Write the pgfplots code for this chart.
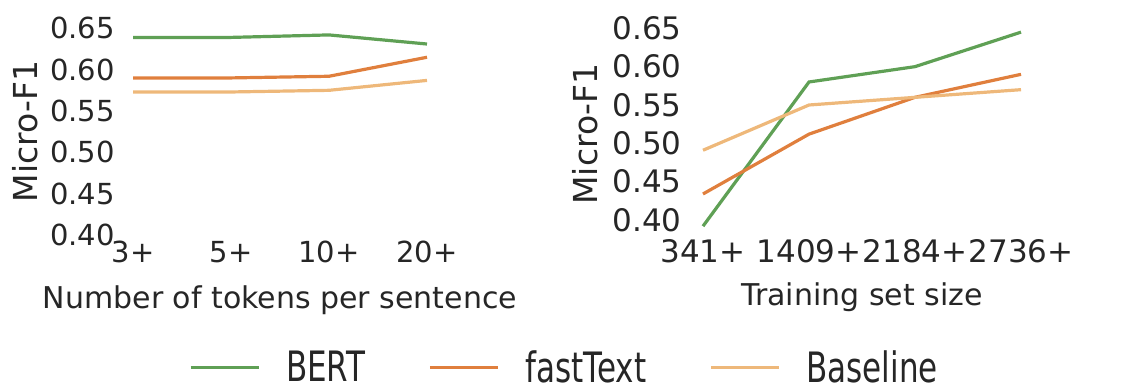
\documentclass[border=0pt]{standalone}
\usepackage{pgfplots}
\pgfplotsset{compat=1.18}
\usepackage{fontspec}
\setmainfont{DejaVu Sans}
\usepackage{graphicx}
\definecolor{cbert}{HTML}{5FA055}
\definecolor{cfast}{HTML}{E07F3D}
\definecolor{cbase}{HTML}{EEB87A}
\definecolor{txt}{HTML}{262626}
\pgfplotsset{
  common/.style={
    scale only axis,
    axis line style={draw=none},
    tick style={draw=none},
    clip=false,
    /pgf/number format/assume math mode=true,
    /pgf/number format/fixed,
    /pgf/number format/fixed zerofill,
    /pgf/number format/precision=2,
    ytick={0.40,0.45,0.50,0.55,0.60,0.65},
    xtick={0,1,2,3},
    xmin=0, xmax=3,
    ymax=0.65,
    every axis plot/.append style={line width=1.6pt},
    ylabel={Micro-F1},
    xlabel style={font=\fontsize{15}{15}\selectfont, text=txt},
    ylabel style={font=\fontsize{16.5}{16.5}\selectfont, text=txt},
  },
}
\begin{document}
\begin{tikzpicture}
\useasboundingbox (0,0) rectangle (561.5pt,194pt);
\begin{axis}[common,
  at={(66.5pt,76.5pt)}, anchor=south west,
  width=147pt, height=103.35pt,
  ymin=0.40,
  xticklabels={3+,5+,10+,20+},
  ticklabel style={font=\fontsize{14.5}{14.5}\selectfont, text=txt},
  yticklabel style={anchor=east, inner sep=0pt, xshift=-9pt},
  xticklabel style={anchor=base, inner sep=0pt, yshift=-13.75pt},
  xlabel={Number of tokens per sentence},
  xlabel style={at={(axis description cs:0.5,0)}, anchor=base, yshift=-36.5pt},
  ylabel style={at={(axis description cs:-0.367,0.5)}, anchor=center},
  legend columns=3,
  legend style={at={(axis description cs:1.464,-0.642)}, anchor=center,
    draw=none, fill=none, inner sep=0pt,
    nodes={inner sep=0pt, font=\fontsize{15.5}{15.5}\selectfont, text=txt},
    /tikz/every odd column/.append style={column sep=13pt},
    /tikz/every even column/.append style={column sep=31.5pt}},
  legend image code/.code={\draw[#1] (0pt,0pt) -- (34pt,0pt);},
]
\addplot[cbert] coordinates {(0,0.639) (1,0.639) (2,0.642) (3,0.631)};
\addlegendentry{\scalebox{1}[1.35]{BERT}}
\addplot[cfast] coordinates {(0,0.590) (1,0.590) (2,0.592) (3,0.615)};
\addlegendentry{\scalebox{1}[1.35]{fastText}}
\addplot[cbase] coordinates {(0,0.573) (1,0.573) (2,0.575) (3,0.587)};
\addlegendentry{\scalebox{1}[1.35]{Baseline}}
\end{axis}
\begin{axis}[common,
  at={(351.5pt,80.15pt)}, anchor=south west,
  width=159pt, height=99.7pt,
  ymin=0.39,
  xticklabels={341+,1409+,2184+,2736+},
  ticklabel style={font=\fontsize{15.5}{15.5}\selectfont, text=txt},
  yticklabel style={anchor=east, inner sep=0pt, xshift=-10.5pt},
  xticklabel style={anchor=base, inner sep=0pt, yshift=-17.4pt},
  xlabel={Training set size},
  xlabel style={at={(axis description cs:0.5,0)}, anchor=base, yshift=-38.65pt},
  ylabel style={at={(axis description cs:-0.369,0.47)}, anchor=center},
]
\addplot[cbert] coordinates {(0,0.392) (1,0.580) (2,0.600) (3,0.645)};
\addplot[cfast] coordinates {(0,0.434) (1,0.512) (2,0.560) (3,0.590)};
\addplot[cbase] coordinates {(0,0.491) (1,0.550) (2,0.560) (3,0.570)};
\end{axis}
\end{tikzpicture}
\end{document}
